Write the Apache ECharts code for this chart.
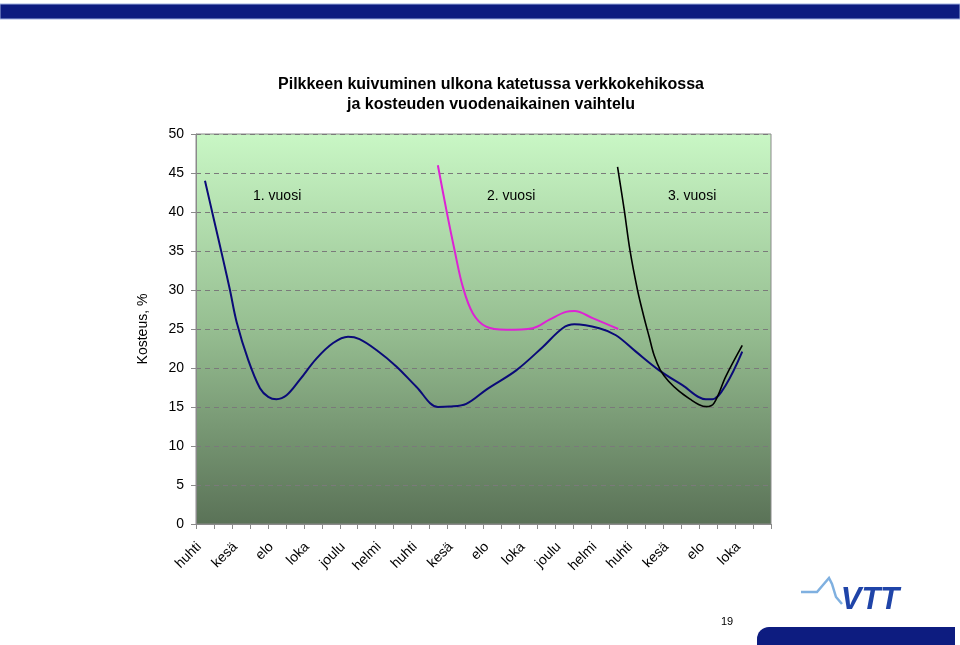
<!DOCTYPE html>
<html>
<head>
<meta charset="utf-8">
<script src="https://cdn.jsdelivr.net/npm/echarts@6/dist/echarts.min.js"></script>
<style>html,body{margin:0;padding:0;background:#fff;}#c{width:960px;height:645px;}</style>
</head>
<body>
<div id="c"></div>
<script>
// Month categories (one per month, April year 1 .. November year 3)
const months = ['huhti','touko','kesä','heinä','elo','syys','loka','marras','joulu','tammi','helmi','maalis',
                'huhti','touko','kesä','heinä','elo','syys','loka','marras','joulu','tammi','helmi','maalis',
                'huhti','touko','kesä','heinä','elo','syys','loka','marras'];
const yTicks = [0, 5, 10, 15, 20, 25, 30, 35, 40, 45, 50];
const yearLabels = ['1. vuosi', '2. vuosi', '3. vuosi'];

// [month position, moisture %]
const pileYear1 = [[0.5,44.0],[0.96,39.4],[1.52,33.8],[1.89,30.0],[2.26,25.9],[2.91,21.0],[3.56,17.4],[4.02,16.3],[4.48,16.0],[5.04,16.5],[5.78,18.5],[6.7,21.2],[7.63,23.2],[8.46,24.0],[9.1,23.7],[10.04,22.3],[11.15,20.2],[12.26,17.6],[13.46,15.0],[14.1,15.05],[15.04,15.4],[16.2,17.3],[17.82,19.7],[19.3,22.7],[20.4,25.1],[21.06,25.6],[22.44,25.1],[23.37,24.2],[24.48,22.1],[25.78,19.7],[27.07,17.8],[28.37,16.0],[28.74,16.0],[29.48,17.8],[30.4,22.1]];
const pileYear2 = [[13.46,46.0],[13.93,40.3],[14.39,35.1],[14.85,30.4],[15.41,27.0],[16.15,25.3],[17.26,24.9],[18.74,25.1],[19.67,26.2],[20.59,27.2],[21.06,27.3],[22.07,26.4],[23.5,25.0]];
const pileYear3 = [[23.46,45.8],[23.83,40.3],[24.15,35.1],[24.57,30.0],[24.9,26.8],[25.22,24.0],[25.5,21.6],[25.85,19.7],[26.3,18.3],[26.9,17.0],[27.5,16.0],[28.0,15.3],[28.4,15.05],[28.83,15.5],[29.48,18.9],[30.4,22.9]];

const FONT = '"Liberation Sans", Arial, sans-serif';
const chart = echarts.init(document.getElementById('c'), null, {renderer: 'canvas'});

const option = {
  animation: false,
  backgroundColor: '#ffffff',
  textStyle: {fontFamily: FONT},
  title: {
    text: 'Pilkkeen kuivuminen ulkona katetussa verkkokehikossa\nja kosteuden vuodenaikainen vaihtelu',
    left: 486, top: 70, textAlign: 'center',
    textStyle: {fontFamily: FONT, fontSize: 16, fontWeight: 'bold', color: '#000', lineHeight: 20}
  },
  grid: {
    left: 196, right: 189, top: 134, bottom: 121,
    show: true, borderColor: '#8a8a8a', borderWidth: 1,
    backgroundColor: new echarts.graphic.LinearGradient(0, 0, 0, 1, [
      {offset: 0, color: '#c9f7c5'},
      {offset: 0.5, color: '#96be91'},
      {offset: 1, color: '#5a7257'}
    ])
  },
  xAxis: [
    {
      type: 'category', data: months, boundaryGap: true,
      axisLine: {show: true, lineStyle: {color: '#8a8a8a'}},
      axisTick: {show: true, interval: 0, length: 5, lineStyle: {color: '#8a8a8a'}},
      axisLabel: {interval: 1, rotate: 45, margin: 15, padding: [0, 8, 0, 0], fontSize: 14, color: '#000', fontFamily: FONT},
      splitLine: {show: false}
    },
    {
      type: 'value', min: 0, max: 32, show: false
    }
  ],
  yAxis: {
    type: 'value', min: 0, max: 50, interval: 5,
    name: 'Kosteus, %', nameLocation: 'middle', nameGap: 46, nameRotate: 90,
    nameTextStyle: {fontSize: 14, color: '#000', fontFamily: FONT},
    axisLine: {show: true, lineStyle: {color: '#8a8a8a'}},
    axisTick: {show: true, length: 5, lineStyle: {color: '#8a8a8a'}},
    axisLabel: {margin: 12, fontSize: 14, color: '#000', fontFamily: FONT,
      formatter: v => yTicks.includes(v) ? String(v) : ''},
    splitLine: {show: true, lineStyle: {color: '#7a7a7a', type: [5, 4], width: 1}}
  },
  series: [
    {type: 'line', name: '1. vuosi', xAxisIndex: 1, data: pileYear1, smooth: 0.35, symbol: 'none',
      lineStyle: {color: '#0a0a78', width: 2}, z: 3},
    {type: 'line', name: '2. vuosi', xAxisIndex: 1, data: pileYear2, smooth: 0.35, symbol: 'none',
      lineStyle: {color: '#dd22d4', width: 2}, z: 4},
    {type: 'line', name: '3. vuosi', xAxisIndex: 1, data: pileYear3, smooth: 0.35, symbol: 'none',
      lineStyle: {color: '#000000', width: 1.6}, z: 5}
  ],
  graphic: [
    // top banner
    {type: 'rect', shape: {x: 0, y: 4, width: 960, height: 15}, style: {fill: '#0d1c80', stroke: '#9fb0e0', lineWidth: 1}, z: 10},
    // year labels
    {type: 'text', x: 253, y: 196, style: {text: yearLabels[0], font: '14px ' + FONT, fill: '#000', textVerticalAlign: 'middle'}, z: 10},
    {type: 'text', x: 487, y: 196, style: {text: yearLabels[1], font: '14px ' + FONT, fill: '#000', textVerticalAlign: 'middle'}, z: 10},
    {type: 'text', x: 668, y: 196, style: {text: yearLabels[2], font: '14px ' + FONT, fill: '#000', textVerticalAlign: 'middle'}, z: 10},
    // page number
    {type: 'text', x: 727, y: 622, style: {text: '19', font: '11px ' + FONT, fill: '#000', textAlign: 'center', textVerticalAlign: 'middle'}, z: 10},
    // bottom bar
    {type: 'rect', shape: {x: 757, y: 627, width: 198, height: 20, r: [12, 0, 0, 0]}, style: {fill: '#0d1c80'}, z: 10},
    // VTT logo waveform
    {type: 'polyline', shape: {points: [[801,592],[817,592],[823,585],[829,578],[832,584],[836,597],[842,604]]},
      style: {stroke: '#7fb0e0', lineWidth: 2.5, fill: null}, z: 10},
    {type: 'text', x: 870, y: 600, style: {text: 'VTT', font: 'italic 900 31px ' + FONT, fill: '#1f44a8', textAlign: 'center', textVerticalAlign: 'middle'}, z: 11}
  ]
};
chart.setOption(option);
</script>
</body>
</html>
